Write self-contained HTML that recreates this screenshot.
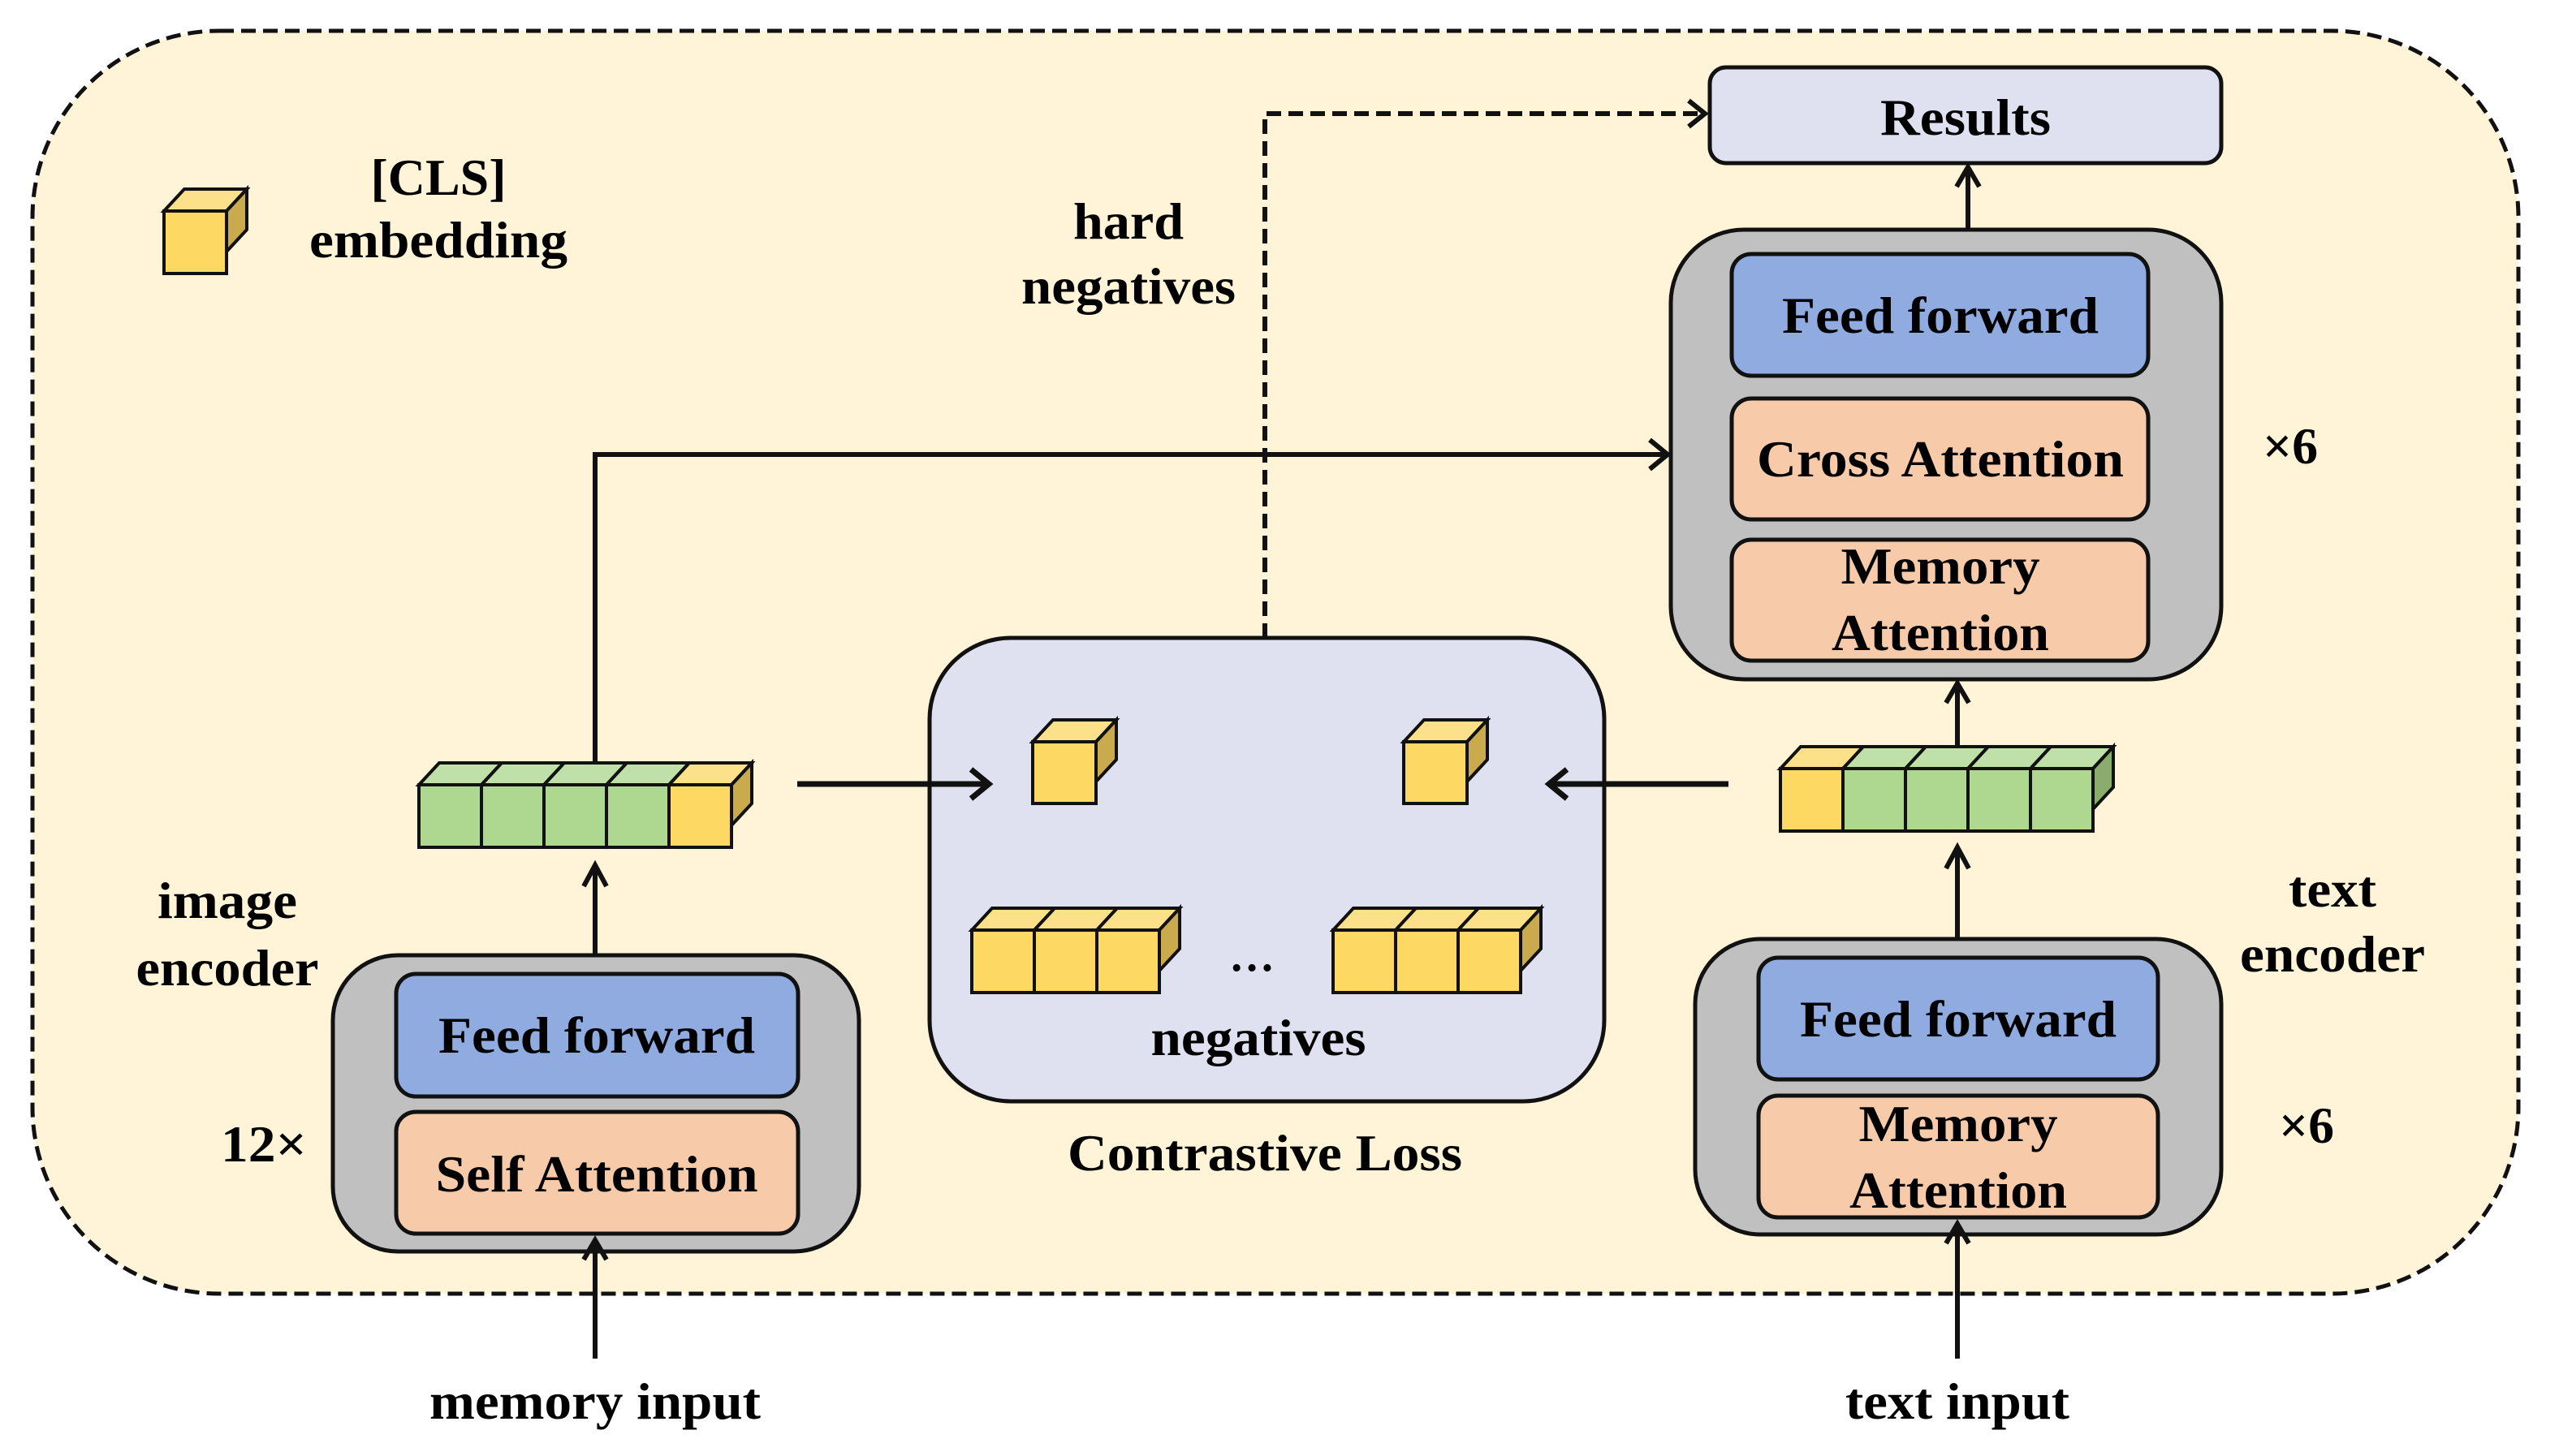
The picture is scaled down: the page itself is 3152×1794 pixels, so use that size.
<!DOCTYPE html>
<html><head><meta charset="utf-8"><style>html,body{margin:0;padding:0;background:#fff}svg{display:block}</style></head><body>
<svg width="3152" height="1794" viewBox="0 0 3152 1794" xmlns="http://www.w3.org/2000/svg" font-family="'Liberation Serif', serif" font-weight="bold" font-size="64">
<defs>
<g id="cy"><path d="M0,0 h77 v77 h-77z" fill="#fdd862" stroke="#111" stroke-width="4"/><path d="M0,0 l25,-27 h77 l-25,27z" fill="#fde08a" stroke="#111" stroke-width="4"/></g>
<g id="cg"><path d="M0,0 h77 v77 h-77z" fill="#aed88f" stroke="#111" stroke-width="4"/><path d="M0,0 l25,-27 h77 l-25,27z" fill="#bfe0a8" stroke="#111" stroke-width="4"/></g>
</defs>
<rect x="40" y="38" width="3062" height="1556" rx="230" fill="#fff3d8" stroke="#111" stroke-width="5" stroke-dasharray="18,9"/>

<!-- legend -->
<g transform="translate(202,260)"><use href="#cy"/><path d="M77,0 l25,-27 v50 l-25,27z" fill="#c9ab4e" stroke="#111" stroke-width="4"/></g>
<text x="540" y="240" text-anchor="middle" textLength="167" lengthAdjust="spacingAndGlyphs">[CLS]</text>
<text x="540" y="317" text-anchor="middle" textLength="318" lengthAdjust="spacingAndGlyphs">embedding</text>
<text x="1390" y="294" text-anchor="middle" textLength="136" lengthAdjust="spacingAndGlyphs">hard</text>
<text x="1390" y="374" text-anchor="middle" textLength="264" lengthAdjust="spacingAndGlyphs">negatives</text>

<!-- dashed hard negatives path -->
<path d="M1558,786 V140 H2096" fill="none" stroke="#111" stroke-width="6" stroke-dasharray="18,9"/>
<polyline points="2080,124 2100,140 2080,156" fill="none" stroke="#111" stroke-width="6"/>

<!-- Results -->
<rect x="2106" y="83" width="630" height="118" rx="20" fill="#dfe1f0" stroke="#111" stroke-width="5"/>
<text x="2421" y="166" text-anchor="middle" textLength="210" lengthAdjust="spacingAndGlyphs">Results</text>
<line x1="2424" y1="283" x2="2424" y2="206" stroke="#111" stroke-width="6"/>
<polyline points="2410,230 2424,206 2438,230" fill="none" stroke="#111" stroke-width="6"/>

<!-- decoder -->
<rect x="2058" y="283" width="678" height="554" rx="90" fill="#c0c0c0" stroke="#111" stroke-width="5"/>
<rect x="2133" y="313" width="513" height="150" rx="24" fill="#8fabe0" stroke="#111" stroke-width="5"/>
<text x="2390" y="410" text-anchor="middle" textLength="390" lengthAdjust="spacingAndGlyphs">Feed forward</text>
<rect x="2133" y="491" width="513" height="149" rx="24" fill="#f7cbaa" stroke="#111" stroke-width="5"/>
<text x="2390" y="587" text-anchor="middle" textLength="452" lengthAdjust="spacingAndGlyphs">Cross Attention</text>
<rect x="2133" y="665" width="513" height="149" rx="24" fill="#f7cbaa" stroke="#111" stroke-width="5"/>
<text x="2390" y="719" text-anchor="middle" textLength="245" lengthAdjust="spacingAndGlyphs">Memory</text>
<text x="2390" y="801" text-anchor="middle" textLength="268" lengthAdjust="spacingAndGlyphs">Attention</text>
<text x="2821" y="571" text-anchor="middle" textLength="68" lengthAdjust="spacingAndGlyphs">×6</text>

<!-- image to decoder -->
<path d="M733,940 V560 H2052" fill="none" stroke="#111" stroke-width="6"/>
<polyline points="2032,542 2054,560 2032,578" fill="none" stroke="#111" stroke-width="6"/>

<!-- contrastive -->
<rect x="1145" y="786" width="831" height="571" rx="100" fill="#dfe1f0" stroke="#111" stroke-width="5"/>
<g transform="translate(1272,914)"><path d="M0,0 h78 v76 h-78z" fill="#fdd862" stroke="#111" stroke-width="4"/><path d="M0,0 l25,-27 h78 l-25,27z" fill="#fde08a" stroke="#111" stroke-width="4"/><path d="M78,0 l25,-27 v49 l-25,27z" fill="#c9ab4e" stroke="#111" stroke-width="4"/></g>
<g transform="translate(1729,914)"><path d="M0,0 h78 v76 h-78z" fill="#fdd862" stroke="#111" stroke-width="4"/><path d="M0,0 l25,-27 h78 l-25,27z" fill="#fde08a" stroke="#111" stroke-width="4"/><path d="M78,0 l25,-27 v49 l-25,27z" fill="#c9ab4e" stroke="#111" stroke-width="4"/></g>
<g transform="translate(1197,1146)"><use href="#cy"/><use href="#cy" x="77"/><use href="#cy" x="154"/><path d="M231,0 l25,-27 v50 l-25,27z" fill="#c9ab4e" stroke="#111" stroke-width="4"/></g>
<g transform="translate(1642,1146)"><use href="#cy"/><use href="#cy" x="77"/><use href="#cy" x="154"/><path d="M231,0 l25,-27 v50 l-25,27z" fill="#c9ab4e" stroke="#111" stroke-width="4"/></g>
<text x="1542" y="1196" text-anchor="middle" font-size="56">…</text>
<text x="1550" y="1300" text-anchor="middle" textLength="265" lengthAdjust="spacingAndGlyphs">negatives</text>
<text x="1558" y="1442" text-anchor="middle" textLength="486" lengthAdjust="spacingAndGlyphs">Contrastive Loss</text>

<!-- image features -->
<g transform="translate(516,967)"><use href="#cg"/><use href="#cg" x="77"/><use href="#cg" x="154"/><use href="#cg" x="231"/><use href="#cy" x="308"/><path d="M385,0 l25,-27 v50 l-25,27z" fill="#c9ab4e" stroke="#111" stroke-width="4"/></g>
<line x1="982" y1="966" x2="1216" y2="966" stroke="#111" stroke-width="7"/>
<polyline points="1196,948 1218,966 1196,984" fill="none" stroke="#111" stroke-width="7"/>
<line x1="733" y1="1177" x2="733" y2="1068" stroke="#111" stroke-width="6"/>
<polyline points="719,1092 733,1066 747,1092" fill="none" stroke="#111" stroke-width="6"/>

<!-- text features -->
<g transform="translate(2193,947)"><use href="#cy"/><use href="#cg" x="77"/><use href="#cg" x="154"/><use href="#cg" x="231"/><use href="#cg" x="308"/><path d="M385,0 l25,-27 v50 l-25,27z" fill="#8aad6e" stroke="#111" stroke-width="4"/></g>
<line x1="2129" y1="966" x2="1910" y2="966" stroke="#111" stroke-width="7"/>
<polyline points="1930,948 1908,966 1930,984" fill="none" stroke="#111" stroke-width="7"/>
<line x1="2411" y1="920" x2="2411" y2="844" stroke="#111" stroke-width="6"/>
<polyline points="2397,866 2411,842 2425,866" fill="none" stroke="#111" stroke-width="6"/>
<line x1="2411" y1="1157" x2="2411" y2="1046" stroke="#111" stroke-width="6"/>
<polyline points="2397,1070 2411,1044 2425,1070" fill="none" stroke="#111" stroke-width="6"/>

<!-- image encoder -->
<rect x="410" y="1177" width="648" height="365" rx="80" fill="#c0c0c0" stroke="#111" stroke-width="5"/>
<rect x="488" y="1200" width="495" height="151" rx="24" fill="#8fabe0" stroke="#111" stroke-width="5"/>
<text x="735" y="1297" text-anchor="middle" textLength="390" lengthAdjust="spacingAndGlyphs">Feed forward</text>
<rect x="488" y="1370" width="495" height="150" rx="24" fill="#f7cbaa" stroke="#111" stroke-width="5"/>
<text x="735" y="1468" text-anchor="middle" textLength="397" lengthAdjust="spacingAndGlyphs">Self Attention</text>
<text x="280" y="1131" text-anchor="middle" textLength="172" lengthAdjust="spacingAndGlyphs">image</text>
<text x="280" y="1214" text-anchor="middle" textLength="225" lengthAdjust="spacingAndGlyphs">encoder</text>
<text x="325" y="1431" text-anchor="middle" textLength="106" lengthAdjust="spacingAndGlyphs">12×</text>
<line x1="733" y1="1674" x2="733" y2="1530" stroke="#111" stroke-width="6"/>
<polyline points="719,1552 733,1528 747,1552" fill="none" stroke="#111" stroke-width="6"/>
<text x="733" y="1748" text-anchor="middle" textLength="408" lengthAdjust="spacingAndGlyphs">memory input</text>

<!-- text encoder -->
<rect x="2088" y="1157" width="648" height="364" rx="80" fill="#c0c0c0" stroke="#111" stroke-width="5"/>
<rect x="2166" y="1180" width="492" height="150" rx="24" fill="#8fabe0" stroke="#111" stroke-width="5"/>
<text x="2412" y="1277" text-anchor="middle" textLength="390" lengthAdjust="spacingAndGlyphs">Feed forward</text>
<rect x="2166" y="1350" width="492" height="150" rx="24" fill="#f7cbaa" stroke="#111" stroke-width="5"/>
<text x="2412" y="1406" text-anchor="middle" textLength="245" lengthAdjust="spacingAndGlyphs">Memory</text>
<text x="2412" y="1488" text-anchor="middle" textLength="268" lengthAdjust="spacingAndGlyphs">Attention</text>
<text x="2873" y="1117" text-anchor="middle" textLength="108" lengthAdjust="spacingAndGlyphs">text</text>
<text x="2873" y="1197" text-anchor="middle" textLength="228" lengthAdjust="spacingAndGlyphs">encoder</text>
<text x="2841" y="1408" text-anchor="middle" textLength="68" lengthAdjust="spacingAndGlyphs">×6</text>
<line x1="2411" y1="1674" x2="2411" y2="1510" stroke="#111" stroke-width="6"/>
<polyline points="2397,1532 2411,1508 2425,1532" fill="none" stroke="#111" stroke-width="6"/>
<text x="2411" y="1748" text-anchor="middle" textLength="276" lengthAdjust="spacingAndGlyphs">text input</text>
</svg>
</body></html>
